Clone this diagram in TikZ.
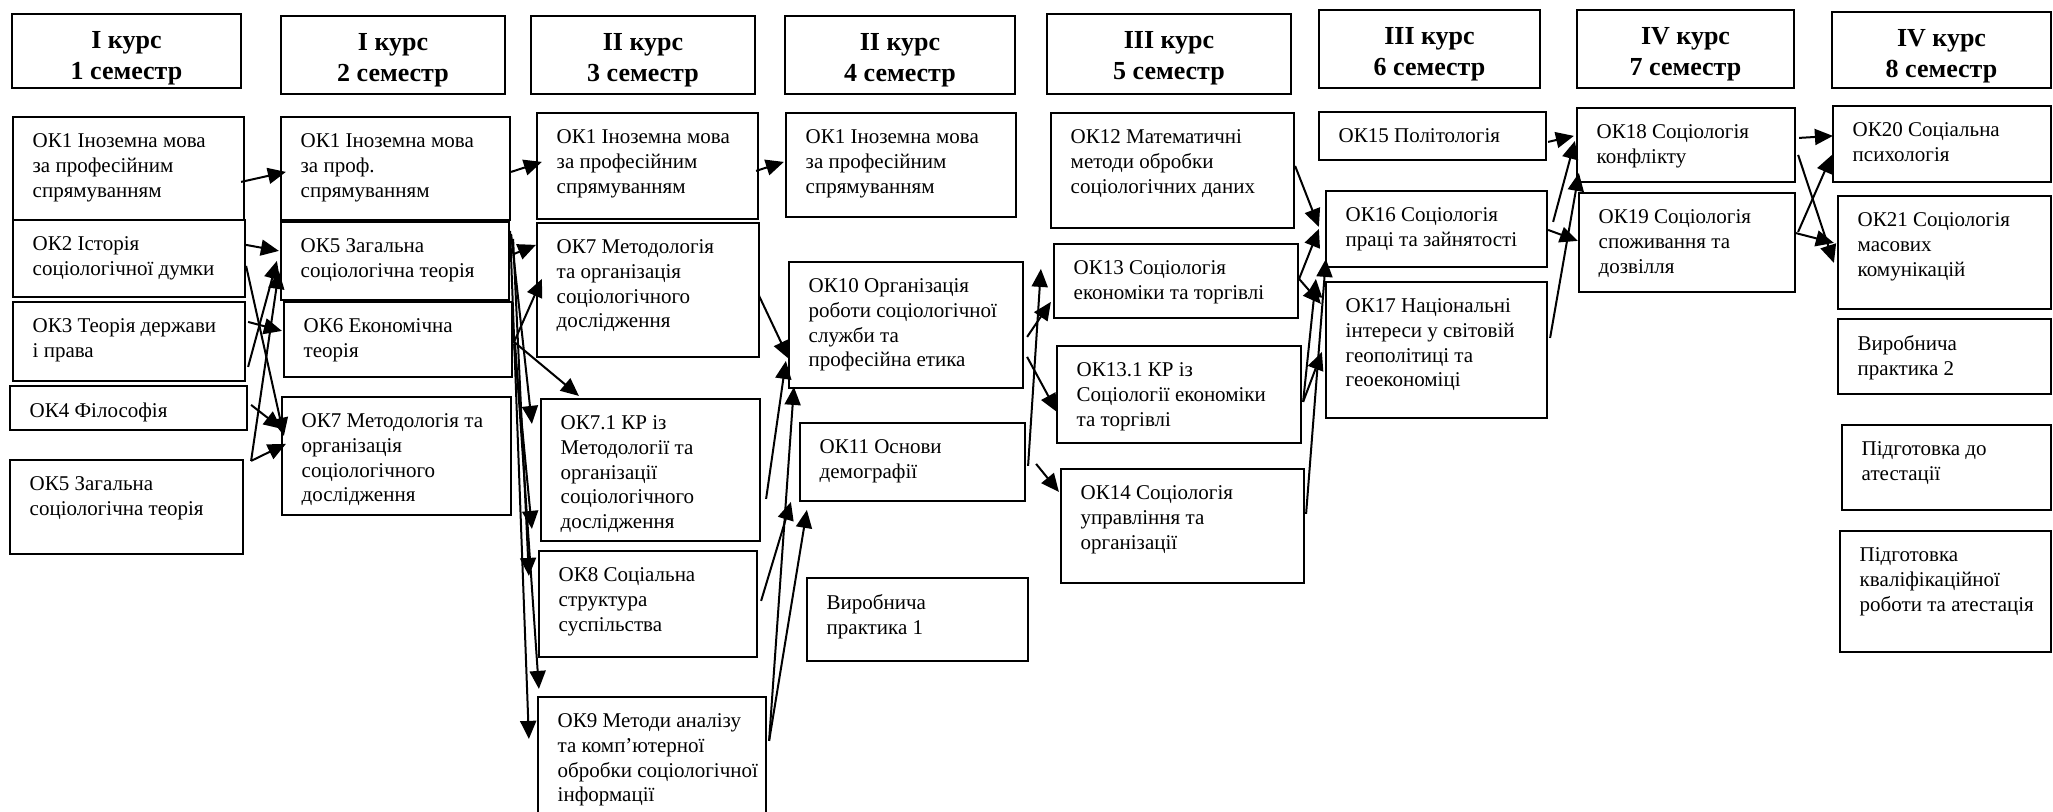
\documentclass[tikz,border=0pt]{standalone}
\usepackage{fontspec}
\setmainfont{Liberation Serif}
\usetikzlibrary{arrows.meta,fit}

\begin{document}
\begin{tikzpicture}[x=0.5pt, y=-0.5pt,
		box/.style={draw, line width=1.1pt, inner sep=0pt},
		head/.style={anchor=north, inner sep=0pt, align=center, yshift=-9pt, font=\fontsize{13}{15.5}\selectfont\bfseries},
		txt/.style={anchor=north west, inner sep=0pt, align=left, xshift=10.2pt, yshift=-8.8pt, font=\fontsize{10.5}{12.3}\selectfont},
		arr/.style={line width=1pt, -{Triangle[length=9pt,width=8pt]}}]
		\useasboundingbox (0,0) rectangle (2053,811);
		
		%--- заголовки
		\node[box, fit={(12,14) (241,88)}] (sem1) {};
		\node[head] (sem1t) at (sem1.north) {І курс\\1 семестр};
		\node[box, fit={(281,16) (505,94)}] (sem2) {};
		\node[head] (sem2t) at (sem2.north) {І курс\\2 семестр};
		\node[box, fit={(531,16) (755,94)}] (sem3) {};
		\node[head] (sem3t) at (sem3.north) {ІІ курс\\3 семестр};
		\node[box, fit={(785,16) (1015,94)}] (sem4) {};
		\node[head] (sem4t) at (sem4.north) {ІІ курс\\4 семестр};
		\node[box, fit={(1047,14) (1291,94)}] (sem5) {};
		\node[head] (sem5t) at (sem5.north) {ІІІ курс\\5 семестр};
		\node[box, fit={(1319,10) (1540,88)}] (sem6) {};
		\node[head] (sem6t) at (sem6.north) {ІІІ курс\\6 семестр};
		\node[box, fit={(1577,10) (1794,88)}] (sem7) {};
		\node[head] (sem7t) at (sem7.north) {IV курс\\7 семестр};
		\node[box, fit={(1832,12) (2051,88)}] (sem8) {};
		\node[head] (sem8t) at (sem8.north) {IV курс\\8 семестр};
		
		%--- 1 семестр
		\node[box, fit={(13,117) (244,220)}] (s1ok1) {};
		\node[txt] (s1ok1t) at (s1ok1.north west) {ОК1 Іноземна мова\\за професійним\\спрямуванням};
		\node[box, fit={(13,220) (245,297)}] (s1ok2) {};
		\node[txt] (s1ok2t) at (s1ok2.north west) {ОК2 Історія\\соціологічної думки};
		\node[box, fit={(13,302) (245,381)}] (s1ok3) {};
		\node[txt] (s1ok3t) at (s1ok3.north west) {ОК3 Теорія держави\\і права};
		\node[box, fit={(10,386) (247,430)}] (s1ok4) {};
		\node[txt] (s1ok4t) at (s1ok4.north west) {ОК4 Філософія};
		\node[box, fit={(10,460) (243,554)}] (s1ok5) {};
		\node[txt] (s1ok5t) at (s1ok5.north west) {ОК5 Загальна\\соціологічна теорія};
		
		%--- 2 семестр
		\node[box, fit={(281,117) (510,220)}] (s2ok1) {};
		\node[txt] (s2ok1t) at (s2ok1.north west) {ОК1 Іноземна мова\\за проф.\\спрямуванням};
		\node[box, fit={(281,222) (509,300)}] (s2ok5) {};
		\node[txt] (s2ok5t) at (s2ok5.north west) {ОК5 Загальна\\соціологічна теорія};
		\node[box, fit={(284,302) (512,377)}] (s2ok6) {};
		\node[txt] (s2ok6t) at (s2ok6.north west) {ОК6 Економічна\\теорія};
		\node[box, fit={(282,397) (511,515)}] (s2ok7) {};
		\node[txt] (s2ok7t) at (s2ok7.north west) {ОК7 Методологія та\\організація\\соціологічного\\дослідження};
		
		%--- 3 семестр
		\node[box, fit={(537,113) (758,219)}] (s3ok1) {};
		\node[txt] (s3ok1t) at (s3ok1.north west) {ОК1 Іноземна мова\\за професійним\\спрямуванням};
		\node[box, fit={(537,223) (759,357)}] (s3ok7) {};
		\node[txt] (s3ok7t) at (s3ok7.north west) {ОК7 Методологія\\та організація\\соціологічного\\дослідження};
		\node[box, fit={(541,399) (760,541)}] (s3kr) {};
		\node[txt] (s3krt) at (s3kr.north west) {ОК7.1 КР із\\Методології та\\організації\\соціологічного\\дослідження};
		\node[box, fit={(539,551) (757,657)}] (s3ok8) {};
		\node[txt] (s3ok8t) at (s3ok8.north west) {ОК8 Соціальна\\структура\\суспільства};
		\node[box, fit={(538,697) (766,815)}] (s3ok9) {};
		\node[txt] (s3ok9t) at (s3ok9.north west) {ОК9 Методи аналізу\\та комп’ютерної\\обробки соціологічної\\інформації};
		
		%--- 4 семестр
		\node[box, fit={(786,113) (1016,217)}] (s4ok1) {};
		\node[txt] (s4ok1t) at (s4ok1.north west) {ОК1 Іноземна мова\\за професійним\\спрямуванням};
		\node[box, fit={(789,262) (1023,388)}] (s4ok10) {};
		\node[txt] (s4ok10t) at (s4ok10.north west) {ОК10 Організація\\роботи соціологічної\\служби та\\професійна етика};
		\node[box, fit={(800,423) (1025,501)}] (s4ok11) {};
		\node[txt] (s4ok11t) at (s4ok11.north west) {ОК11 Основи\\демографії};
		\node[box, fit={(807,578) (1028,661)}] (s4pr) {};
		\node[txt] (s4prt) at (s4pr.north west) {Виробнича\\практика 1};
		
		%--- 5 семестр
		\node[box, fit={(1051,113) (1294,228)}] (s5ok12) {};
		\node[txt] (s5ok12t) at (s5ok12.north west) {ОК12 Математичні\\методи обробки\\соціологічних даних};
		\node[box, fit={(1054,244) (1298,318)}] (s5ok13) {};
		\node[txt] (s5ok13t) at (s5ok13.north west) {ОК13 Соціологія\\економіки та торгівлі};
		\node[box, fit={(1057,346) (1301,443)}] (s5kr) {};
		\node[txt] (s5krt) at (s5kr.north west) {ОК13.1 КР із\\Соціології економіки\\та торгівлі};
		\node[box, fit={(1061,469) (1304,583)}] (s5ok14) {};
		\node[txt] (s5ok14t) at (s5ok14.north west) {ОК14 Соціологія\\управління та\\організації};
		
		%--- 6 семестр
		\node[box, fit={(1319,112) (1546,160)}] (s6ok15) {};
		\node[txt] (s6ok15t) at (s6ok15.north west) {ОК15 Політологія};
		\node[box, fit={(1326,191) (1547,267)}] (s6ok16) {};
		\node[txt] (s6ok16t) at (s6ok16.north west) {ОК16 Соціологія\\праці та зайнятості};
		\node[box, fit={(1326,282) (1547,418)}] (s6ok17) {};
		\node[txt] (s6ok17t) at (s6ok17.north west) {ОК17 Національні\\інтереси у світовій\\геополітиці та\\геоекономіці};
		
		%--- 7 семестр
		\node[box, fit={(1577,108) (1795,182)}] (s7ok18) {};
		\node[txt] (s7ok18t) at (s7ok18.north west) {ОК18 Соціологія\\конфлікту};
		\node[box, fit={(1579,193) (1795,292)}] (s7ok19) {};
		\node[txt] (s7ok19t) at (s7ok19.north west) {ОК19 Соціологія\\споживання та\\дозвілля};
		
		%--- 8 семестр
		\node[box, fit={(1833,106) (2051,182)}] (s8ok20) {};
		\node[txt] (s8ok20t) at (s8ok20.north west) {ОК20 Соціальна\\психологія};
		\node[box, fit={(1838,196) (2051,309)}] (s8ok21) {};
		\node[txt] (s8ok21t) at (s8ok21.north west) {ОК21 Соціологія\\масових\\комунікацій};
		\node[box, fit={(1838,319) (2051,394)}] (s8pr) {};
		\node[txt] (s8prt) at (s8pr.north west) {Виробнича\\практика 2};
		\node[box, fit={(1842,425) (2051,510)}] (s8att) {};
		\node[txt] (s8attt) at (s8att.north west) {Підготовка до\\атестації};
		\node[box, fit={(1840,531) (2051,652)}] (s8kvr) {};
		\node[txt] (s8kvrt) at (s8kvr.north west) {Підготовка\\кваліфікаційної\\роботи та атестація};
		
		%--- 1 -> 2
		\draw[arr] ([shift={(-4,66)}]s1ok1.north east) -- ([shift={(6,56)}]s2ok1.north west);
		\draw[arr] ([shift={(0,26)}]s1ok2.north east) -- ([shift={(-1,30)}]s2ok5.north west);
		\draw[arr] ([shift={(0,47)}]s1ok2.north east) -- ([shift={(3,40)}]s2ok7.north west);
		\draw[arr] ([shift={(2,21)}]s1ok3.north east) -- ([shift={(-1,30)}]s2ok6.north west);
		\draw[arr] ([shift={(2,66)}]s1ok3.north east) -- ([shift={(-3,40)}]s2ok5.north west);
		\draw[arr] ([shift={(3,20)}]s1ok4.north east) -- ([shift={(1,33)}]s2ok7.north west);
		\draw[arr] ([shift={(7,2)}]s1ok5.north east) -- ([shift={(-1,50)}]s2ok5.north west);
		\draw[arr] ([shift={(7,2)}]s1ok5.north east) -- ([shift={(5,48)}]s2ok7.north west);
		
		%--- 2 -> 3
		\draw[arr] ([shift={(0,56)}]s2ok1.north east) -- ([shift={(6,50)}]s3ok1.north west);
		\draw[arr] ([shift={(4,33)}]s2ok5.north east) -- ([shift={(0,23)}]s3ok7.north west);
		\draw[arr] ([shift={(1,41)}]s2ok6.north east) -- ([shift={(6,57)}]s3ok7.north west);
		\draw[arr] ([shift={(1,41)}]s2ok6.north east) -- ([shift={(39,-2)}]s3kr.north west);
		\draw[arr] ([shift={(1,13)}]s2ok5.north east) -- ([shift={(-8,26)}]s3kr.north west);
		\draw[arr] ([shift={(1,43)}]s2ok6.north east) -- ([shift={(-8,131)}]s3kr.north west);
		\draw[arr] ([shift={(3,18)}]s2ok5.north east) -- ([shift={(-9,26)}]s3ok8.north west);
		\draw[arr] ([shift={(2,43)}]s2ok6.north east) -- ([shift={(2,-7)}]s3ok9.north west);
		\draw[arr] ([shift={(0,10)}]s2ok5.north east) -- ([shift={(-8,43)}]s3ok9.north west);
		
		%--- 3 -> 4
		\draw[arr] ([shift={(-3,59)}]s3ok1.north east) -- ([shift={(-1,50)}]s4ok1.north west);
		\draw[arr] ([shift={(-1,74)}]s3ok7.north east) -- ([shift={(1,98)}]s4ok10.north west);
		\draw[arr] ([shift={(5,101)}]s3kr.north east) -- ([shift={(-2,100)}]s4ok10.north west);
		\draw[arr] ([shift={(2,45)}]s3ok9.north east) -- ([shift={(6,126)}]s4ok10.north west);
		\draw[arr] ([shift={(3,51)}]s3ok8.north east) -- ([shift={(-8,80)}]s4ok11.north west);
		\draw[arr] ([shift={(2,45)}]s3ok9.north east) -- ([shift={(8,88)}]s4ok11.north west);
		
		%--- 4 -> 5
		\draw[arr] ([shift={(3,76)}]s4ok10.north east) -- ([shift={(-2,59)}]s5ok13.north west);
		\draw[arr] ([shift={(3,96)}]s4ok10.north east) -- ([shift={(1,67)}]s5kr.north west);
		\draw[arr] ([shift={(2,44)}]s4ok11.north east) -- ([shift={(-12,26)}]s5ok13.north west);
		\draw[arr] ([shift={(10,42)}]s4ok11.north east) -- ([shift={(-1,24)}]s5ok14.north west);
		
		%--- 5 -> 6
		\draw[arr] ([shift={(0,54)}]s5ok12.north east) -- ([shift={(-6,37)}]s6ok16.north west);
		\draw[arr] ([shift={(0,36)}]s5ok13.north east) -- ([shift={(-6,39)}]s6ok16.north west);
		\draw[arr] ([shift={(0,36)}]s5ok13.north east) -- ([shift={(-4,23)}]s6ok17.north west);
		\draw[arr] ([shift={(1,57)}]s5kr.north east) -- ([shift={(-9,89)}]s6ok16.north west);
		\draw[arr] ([shift={(1,57)}]s5kr.north east) -- ([shift={(-3,71)}]s6ok17.north west);
		\draw[arr] ([shift={(1,46)}]s5ok14.north east) -- ([shift={(1,69)}]s6ok16.north west);
		
		%--- 6 -> 7
		\draw[arr] ([shift={(1,31)}]s6ok15.north east) -- ([shift={(-2,29)}]s7ok18.north west);
		\draw[arr] ([shift={(5,32)}]s6ok16.north east) -- ([shift={(-1,34)}]s7ok18.north west);
		\draw[arr] ([shift={(0,40)}]s6ok16.north east) -- ([shift={(0,49)}]s7ok19.north west);
		\draw[arr] ([shift={(2,57)}]s6ok17.north east) -- ([shift={(3,66)}]s7ok18.north west);
		
		%--- 7 -> 8
		\draw[arr] ([shift={(3,31)}]s7ok18.north east) -- ([shift={(1,31)}]s8ok20.north west);
		\draw[arr] ([shift={(2,48)}]s7ok18.north east) -- ([shift={(-3,68)}]s8ok21.north west);
		\draw[arr] ([shift={(2,40)}]s7ok19.north east) -- ([shift={(0,50)}]s8ok20.north west);
		\draw[arr] ([shift={(-1,41)}]s7ok19.north east) -- ([shift={(-3,48)}]s8ok21.north west);
	\end{tikzpicture}
\end{document}
